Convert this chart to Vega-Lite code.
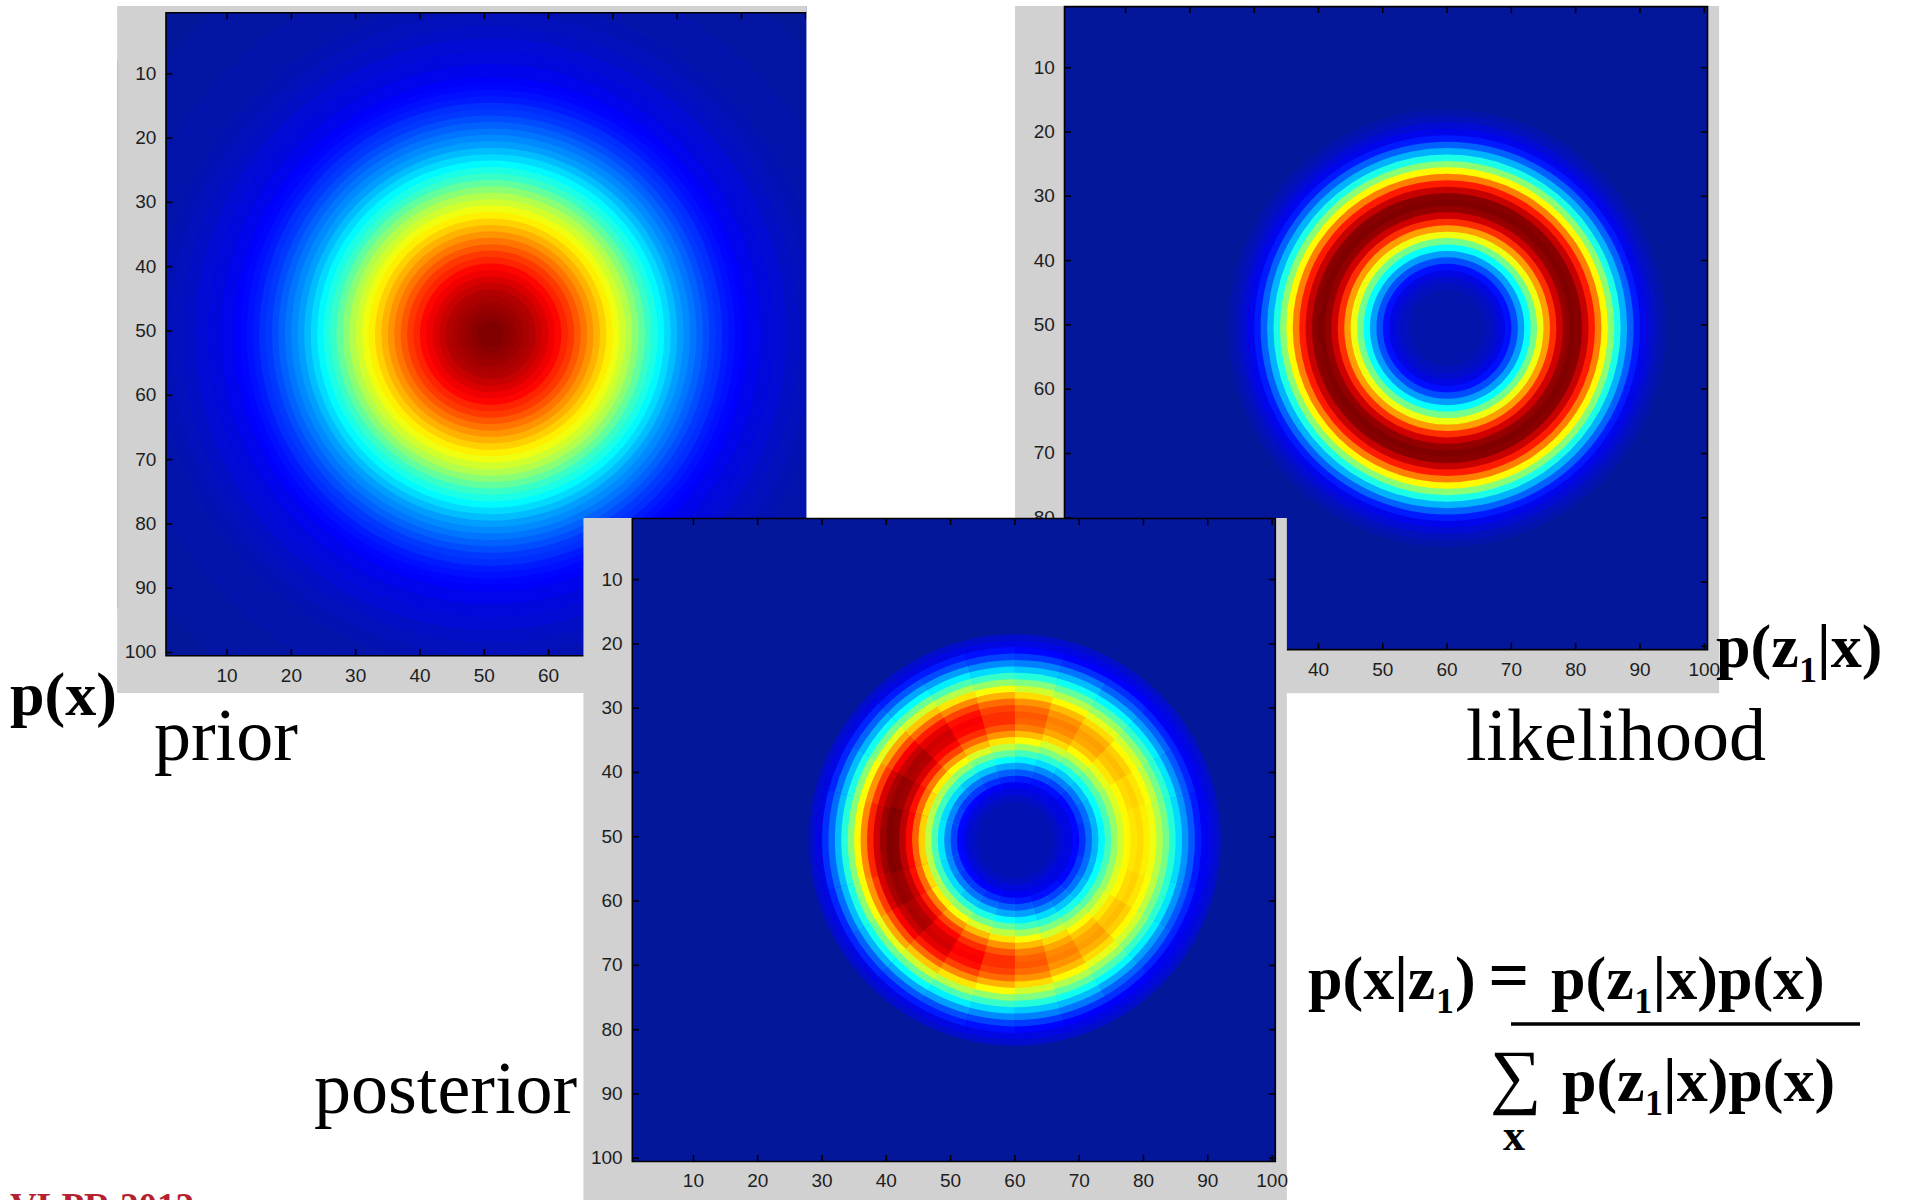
{
"$schema":"https://vega.github.io/schema/vega-lite/v6.json",
"width":1908,"height":1200,"autosize":{"type":"none"},"padding":0,"background":"#ffffff",
"config":{"view":{"stroke":null},"legend":{"disable":true},"axis":{"disable":true},
 "text":{"font":"Liberation Serif","fontSize":62,"fontWeight":"bold","align":"left","baseline":"alphabetic","color":"#000000"},
 "rule":{"color":"#000000","strokeWidth":1.6}},
"datasets":{
 "ticks":[{"t":10},{"t":20},{"t":30},{"t":40},{"t":50},{"t":60},{"t":70},{"t":80},{"t":90},{"t":100}],
 "prior":[{"r":72,"v":0},{"r":66,"v":1},{"r":62,"v":1},{"r":58,"v":2},{"r":55,"v":2},{"r":52,"v":3},{"r":50,"v":4},{"r":48,"v":5},{"r":46,"v":7},{"r":44,"v":8},{"r":42,"v":10},{"r":40,"v":12},{"r":39,"v":13},{"r":38,"v":14},{"r":37,"v":15},{"r":36,"v":17},{"r":35,"v":18},{"r":34,"v":20},{"r":33,"v":22},{"r":32,"v":24},{"r":31,"v":26},{"r":30,"v":28},{"r":29,"v":31},{"r":28,"v":34},{"r":27,"v":37},{"r":26,"v":40},{"r":25,"v":43},{"r":24,"v":47},{"r":23,"v":51},{"r":22,"v":55},{"r":21,"v":58},{"r":20,"v":61},{"r":19,"v":64},{"r":18,"v":67},{"r":17,"v":70},{"r":16,"v":73},{"r":15,"v":76},{"r":14,"v":79},{"r":13,"v":82},{"r":12,"v":84},{"r":11,"v":87},{"r":10,"v":89},{"r":9,"v":91},{"r":8,"v":93},{"r":7,"v":95},{"r":6,"v":96},{"r":5,"v":97},{"r":4,"v":98},{"r":3,"v":99},{"r":2,"v":100}],
 "lik":[{"r":34,"v":2},{"r":33,"v":4},{"r":32,"v":7},{"r":31,"v":10},{"r":30,"v":15},{"r":29,"v":22},{"r":28,"v":30},{"r":27,"v":40},{"r":26,"v":51},{"r":25,"v":63},{"r":24,"v":75},{"r":23,"v":85},{"r":22,"v":93},{"r":21,"v":99},{"r":20,"v":100},{"r":19,"v":98},{"r":18,"v":92},{"r":17,"v":83},{"r":16,"v":72},{"r":15,"v":61},{"r":14,"v":49},{"r":13,"v":38},{"r":12,"v":28},{"r":11,"v":20},{"r":10,"v":14},{"r":9,"v":9},{"r":8,"v":6},{"r":7,"v":4},{"r":6,"v":2}],
 "post_rim":[{"r":32,"v":6},{"r":31,"v":9}],
 "post_core":[{"r":8,"v":8},{"r":7,"v":5},{"r":6,"v":3}],
 "post":[
{"a":0,"r":30,"v":13},{"a":1,"r":30,"v":12},{"a":2,"r":30,"v":12},{"a":3,"r":30,"v":11},{"a":4,"r":30,"v":11},{"a":5,"r":30,"v":11},{"a":6,"r":30,"v":11},{"a":7,"r":30,"v":11},{"a":8,"r":30,"v":11},{"a":9,"r":30,"v":12},{"a":10,"r":30,"v":12},{"a":11,"r":30,"v":13},{"a":12,"r":30,"v":14},{"a":13,"r":30,"v":15},{"a":14,"r":30,"v":15},{"a":15,"r":30,"v":16},{"a":16,"r":30,"v":16},{"a":17,"r":30,"v":17},{"a":18,"r":30,"v":17},{"a":19,"r":30,"v":16},{"a":20,"r":30,"v":16},{"a":21,"r":30,"v":15},{"a":22,"r":30,"v":15},{"a":23,"r":30,"v":14},
{"a":0,"r":29,"v":18},{"a":1,"r":29,"v":17},{"a":2,"r":29,"v":17},{"a":3,"r":29,"v":16},{"a":4,"r":29,"v":16},{"a":5,"r":29,"v":15},{"a":6,"r":29,"v":15},{"a":7,"r":29,"v":16},{"a":8,"r":29,"v":16},{"a":9,"r":29,"v":17},{"a":10,"r":29,"v":17},{"a":11,"r":29,"v":18},{"a":12,"r":29,"v":19},{"a":13,"r":29,"v":20},{"a":14,"r":29,"v":21},{"a":15,"r":29,"v":22},{"a":16,"r":29,"v":23},{"a":17,"r":29,"v":23},{"a":18,"r":29,"v":23},{"a":19,"r":29,"v":23},{"a":20,"r":29,"v":22},{"a":21,"r":29,"v":21},{"a":22,"r":29,"v":20},{"a":23,"r":29,"v":19},
{"a":0,"r":28,"v":25},{"a":1,"r":28,"v":24},{"a":2,"r":28,"v":22},{"a":3,"r":28,"v":22},{"a":4,"r":28,"v":21},{"a":5,"r":28,"v":21},{"a":6,"r":28,"v":21},{"a":7,"r":28,"v":21},{"a":8,"r":28,"v":22},{"a":9,"r":28,"v":22},{"a":10,"r":28,"v":24},{"a":11,"r":28,"v":25},{"a":12,"r":28,"v":26},{"a":13,"r":28,"v":28},{"a":14,"r":28,"v":29},{"a":15,"r":28,"v":30},{"a":16,"r":28,"v":31},{"a":17,"r":28,"v":31},{"a":18,"r":28,"v":31},{"a":19,"r":28,"v":31},{"a":20,"r":28,"v":30},{"a":21,"r":28,"v":29},{"a":22,"r":28,"v":28},{"a":23,"r":28,"v":26},
{"a":0,"r":27,"v":32},{"a":1,"r":27,"v":31},{"a":2,"r":27,"v":29},{"a":3,"r":27,"v":28},{"a":4,"r":27,"v":27},{"a":5,"r":27,"v":27},{"a":6,"r":27,"v":27},{"a":7,"r":27,"v":27},{"a":8,"r":27,"v":28},{"a":9,"r":27,"v":29},{"a":10,"r":27,"v":31},{"a":11,"r":27,"v":32},{"a":12,"r":27,"v":34},{"a":13,"r":27,"v":36},{"a":14,"r":27,"v":38},{"a":15,"r":27,"v":39},{"a":16,"r":27,"v":40},{"a":17,"r":27,"v":41},{"a":18,"r":27,"v":41},{"a":19,"r":27,"v":40},{"a":20,"r":27,"v":39},{"a":21,"r":27,"v":38},{"a":22,"r":27,"v":36},{"a":23,"r":27,"v":34},
{"a":0,"r":26,"v":41},{"a":1,"r":26,"v":39},{"a":2,"r":26,"v":37},{"a":3,"r":26,"v":36},{"a":4,"r":26,"v":35},{"a":5,"r":26,"v":34},{"a":6,"r":26,"v":34},{"a":7,"r":26,"v":35},{"a":8,"r":26,"v":36},{"a":9,"r":26,"v":37},{"a":10,"r":26,"v":39},{"a":11,"r":26,"v":41},{"a":12,"r":26,"v":43},{"a":13,"r":26,"v":45},{"a":14,"r":26,"v":48},{"a":15,"r":26,"v":49},{"a":16,"r":26,"v":51},{"a":17,"r":26,"v":51},{"a":18,"r":26,"v":51},{"a":19,"r":26,"v":51},{"a":20,"r":26,"v":49},{"a":21,"r":26,"v":48},{"a":22,"r":26,"v":45},{"a":23,"r":26,"v":43},
{"a":0,"r":25,"v":50},{"a":1,"r":25,"v":47},{"a":2,"r":25,"v":45},{"a":3,"r":25,"v":43},{"a":4,"r":25,"v":42},{"a":5,"r":25,"v":41},{"a":6,"r":25,"v":41},{"a":7,"r":25,"v":42},{"a":8,"r":25,"v":43},{"a":9,"r":25,"v":45},{"a":10,"r":25,"v":47},{"a":11,"r":25,"v":50},{"a":12,"r":25,"v":52},{"a":13,"r":25,"v":55},{"a":14,"r":25,"v":58},{"a":15,"r":25,"v":60},{"a":16,"r":25,"v":62},{"a":17,"r":25,"v":63},{"a":18,"r":25,"v":63},{"a":19,"r":25,"v":62},{"a":20,"r":25,"v":60},{"a":21,"r":25,"v":58},{"a":22,"r":25,"v":55},{"a":23,"r":25,"v":52},
{"a":0,"r":24,"v":58},{"a":1,"r":24,"v":55},{"a":2,"r":24,"v":53},{"a":3,"r":24,"v":51},{"a":4,"r":24,"v":49},{"a":5,"r":24,"v":49},{"a":6,"r":24,"v":49},{"a":7,"r":24,"v":49},{"a":8,"r":24,"v":51},{"a":9,"r":24,"v":53},{"a":10,"r":24,"v":55},{"a":11,"r":24,"v":58},{"a":12,"r":24,"v":62},{"a":13,"r":24,"v":65},{"a":14,"r":24,"v":68},{"a":15,"r":24,"v":71},{"a":16,"r":24,"v":73},{"a":17,"r":24,"v":74},{"a":18,"r":24,"v":74},{"a":19,"r":24,"v":73},{"a":20,"r":24,"v":71},{"a":21,"r":24,"v":68},{"a":22,"r":24,"v":65},{"a":23,"r":24,"v":62},
{"a":0,"r":23,"v":66},{"a":1,"r":23,"v":63},{"a":2,"r":23,"v":60},{"a":3,"r":23,"v":58},{"a":4,"r":23,"v":56},{"a":5,"r":23,"v":55},{"a":6,"r":23,"v":55},{"a":7,"r":23,"v":56},{"a":8,"r":23,"v":58},{"a":9,"r":23,"v":60},{"a":10,"r":23,"v":63},{"a":11,"r":23,"v":66},{"a":12,"r":23,"v":70},{"a":13,"r":23,"v":74},{"a":14,"r":23,"v":77},{"a":15,"r":23,"v":80},{"a":16,"r":23,"v":82},{"a":17,"r":23,"v":84},{"a":18,"r":23,"v":84},{"a":19,"r":23,"v":82},{"a":20,"r":23,"v":80},{"a":21,"r":23,"v":77},{"a":22,"r":23,"v":74},{"a":23,"r":23,"v":70},
{"a":0,"r":22,"v":73},{"a":1,"r":22,"v":69},{"a":2,"r":22,"v":66},{"a":3,"r":22,"v":63},{"a":4,"r":22,"v":62},{"a":5,"r":22,"v":61},{"a":6,"r":22,"v":61},{"a":7,"r":22,"v":62},{"a":8,"r":22,"v":63},{"a":9,"r":22,"v":66},{"a":10,"r":22,"v":69},{"a":11,"r":22,"v":73},{"a":12,"r":22,"v":77},{"a":13,"r":22,"v":81},{"a":14,"r":22,"v":85},{"a":15,"r":22,"v":88},{"a":16,"r":22,"v":91},{"a":17,"r":22,"v":92},{"a":18,"r":22,"v":92},{"a":19,"r":22,"v":91},{"a":20,"r":22,"v":88},{"a":21,"r":22,"v":85},{"a":22,"r":22,"v":81},{"a":23,"r":22,"v":77},
{"a":0,"r":21,"v":77},{"a":1,"r":21,"v":73},{"a":2,"r":21,"v":70},{"a":3,"r":21,"v":67},{"a":4,"r":21,"v":65},{"a":5,"r":21,"v":64},{"a":6,"r":21,"v":64},{"a":7,"r":21,"v":65},{"a":8,"r":21,"v":67},{"a":9,"r":21,"v":70},{"a":10,"r":21,"v":73},{"a":11,"r":21,"v":77},{"a":12,"r":21,"v":81},{"a":13,"r":21,"v":86},{"a":14,"r":21,"v":90},{"a":15,"r":21,"v":93},{"a":16,"r":21,"v":96},{"a":17,"r":21,"v":97},{"a":18,"r":21,"v":97},{"a":19,"r":21,"v":96},{"a":20,"r":21,"v":93},{"a":21,"r":21,"v":90},{"a":22,"r":21,"v":86},{"a":23,"r":21,"v":81},
{"a":0,"r":20,"v":79},{"a":1,"r":20,"v":75},{"a":2,"r":20,"v":72},{"a":3,"r":20,"v":69},{"a":4,"r":20,"v":67},{"a":5,"r":20,"v":66},{"a":6,"r":20,"v":66},{"a":7,"r":20,"v":67},{"a":8,"r":20,"v":69},{"a":9,"r":20,"v":72},{"a":10,"r":20,"v":75},{"a":11,"r":20,"v":79},{"a":12,"r":20,"v":83},{"a":13,"r":20,"v":88},{"a":14,"r":20,"v":92},{"a":15,"r":20,"v":96},{"a":16,"r":20,"v":98},{"a":17,"r":20,"v":100},{"a":18,"r":20,"v":100},{"a":19,"r":20,"v":98},{"a":20,"r":20,"v":96},{"a":21,"r":20,"v":92},{"a":22,"r":20,"v":88},{"a":23,"r":20,"v":83},
{"a":0,"r":19,"v":78},{"a":1,"r":19,"v":74},{"a":2,"r":19,"v":71},{"a":3,"r":19,"v":68},{"a":4,"r":19,"v":66},{"a":5,"r":19,"v":65},{"a":6,"r":19,"v":65},{"a":7,"r":19,"v":66},{"a":8,"r":19,"v":68},{"a":9,"r":19,"v":71},{"a":10,"r":19,"v":74},{"a":11,"r":19,"v":78},{"a":12,"r":19,"v":83},{"a":13,"r":19,"v":87},{"a":14,"r":19,"v":91},{"a":15,"r":19,"v":95},{"a":16,"r":19,"v":97},{"a":17,"r":19,"v":99},{"a":18,"r":19,"v":99},{"a":19,"r":19,"v":97},{"a":20,"r":19,"v":95},{"a":21,"r":19,"v":91},{"a":22,"r":19,"v":87},{"a":23,"r":19,"v":83},
{"a":0,"r":18,"v":75},{"a":1,"r":18,"v":71},{"a":2,"r":18,"v":68},{"a":3,"r":18,"v":65},{"a":4,"r":18,"v":63},{"a":5,"r":18,"v":63},{"a":6,"r":18,"v":63},{"a":7,"r":18,"v":63},{"a":8,"r":18,"v":65},{"a":9,"r":18,"v":68},{"a":10,"r":18,"v":71},{"a":11,"r":18,"v":75},{"a":12,"r":18,"v":79},{"a":13,"r":18,"v":83},{"a":14,"r":18,"v":87},{"a":15,"r":18,"v":91},{"a":16,"r":18,"v":93},{"a":17,"r":18,"v":94},{"a":18,"r":18,"v":94},{"a":19,"r":18,"v":93},{"a":20,"r":18,"v":91},{"a":21,"r":18,"v":87},{"a":22,"r":18,"v":83},{"a":23,"r":18,"v":79},
{"a":0,"r":17,"v":69},{"a":1,"r":17,"v":66},{"a":2,"r":17,"v":63},{"a":3,"r":17,"v":60},{"a":4,"r":17,"v":59},{"a":5,"r":17,"v":58},{"a":6,"r":17,"v":58},{"a":7,"r":17,"v":59},{"a":8,"r":17,"v":60},{"a":9,"r":17,"v":63},{"a":10,"r":17,"v":66},{"a":11,"r":17,"v":69},{"a":12,"r":17,"v":73},{"a":13,"r":17,"v":77},{"a":14,"r":17,"v":81},{"a":15,"r":17,"v":84},{"a":16,"r":17,"v":86},{"a":17,"r":17,"v":87},{"a":18,"r":17,"v":87},{"a":19,"r":17,"v":86},{"a":20,"r":17,"v":84},{"a":21,"r":17,"v":81},{"a":22,"r":17,"v":77},{"a":23,"r":17,"v":73},
{"a":0,"r":16,"v":62},{"a":1,"r":16,"v":58},{"a":2,"r":16,"v":56},{"a":3,"r":16,"v":54},{"a":4,"r":16,"v":52},{"a":5,"r":16,"v":52},{"a":6,"r":16,"v":52},{"a":7,"r":16,"v":52},{"a":8,"r":16,"v":54},{"a":9,"r":16,"v":56},{"a":10,"r":16,"v":58},{"a":11,"r":16,"v":62},{"a":12,"r":16,"v":65},{"a":13,"r":16,"v":69},{"a":14,"r":16,"v":72},{"a":15,"r":16,"v":75},{"a":16,"r":16,"v":77},{"a":17,"r":16,"v":78},{"a":18,"r":16,"v":78},{"a":19,"r":16,"v":77},{"a":20,"r":16,"v":75},{"a":21,"r":16,"v":72},{"a":22,"r":16,"v":69},{"a":23,"r":16,"v":65},
{"a":0,"r":15,"v":53},{"a":1,"r":15,"v":50},{"a":2,"r":15,"v":48},{"a":3,"r":15,"v":46},{"a":4,"r":15,"v":45},{"a":5,"r":15,"v":44},{"a":6,"r":15,"v":44},{"a":7,"r":15,"v":45},{"a":8,"r":15,"v":46},{"a":9,"r":15,"v":48},{"a":10,"r":15,"v":50},{"a":11,"r":15,"v":53},{"a":12,"r":15,"v":56},{"a":13,"r":15,"v":59},{"a":14,"r":15,"v":62},{"a":15,"r":15,"v":64},{"a":16,"r":15,"v":66},{"a":17,"r":15,"v":67},{"a":18,"r":15,"v":67},{"a":19,"r":15,"v":66},{"a":20,"r":15,"v":64},{"a":21,"r":15,"v":62},{"a":22,"r":15,"v":59},{"a":23,"r":15,"v":56},
{"a":0,"r":14,"v":44},{"a":1,"r":14,"v":42},{"a":2,"r":14,"v":40},{"a":3,"r":14,"v":39},{"a":4,"r":14,"v":38},{"a":5,"r":14,"v":37},{"a":6,"r":14,"v":37},{"a":7,"r":14,"v":38},{"a":8,"r":14,"v":39},{"a":9,"r":14,"v":40},{"a":10,"r":14,"v":42},{"a":11,"r":14,"v":44},{"a":12,"r":14,"v":47},{"a":13,"r":14,"v":49},{"a":14,"r":14,"v":52},{"a":15,"r":14,"v":54},{"a":16,"r":14,"v":55},{"a":17,"r":14,"v":56},{"a":18,"r":14,"v":56},{"a":19,"r":14,"v":55},{"a":20,"r":14,"v":54},{"a":21,"r":14,"v":52},{"a":22,"r":14,"v":49},{"a":23,"r":14,"v":47},
{"a":0,"r":13,"v":36},{"a":1,"r":13,"v":34},{"a":2,"r":13,"v":32},{"a":3,"r":13,"v":31},{"a":4,"r":13,"v":30},{"a":5,"r":13,"v":30},{"a":6,"r":13,"v":30},{"a":7,"r":13,"v":30},{"a":8,"r":13,"v":31},{"a":9,"r":13,"v":32},{"a":10,"r":13,"v":34},{"a":11,"r":13,"v":36},{"a":12,"r":13,"v":38},{"a":13,"r":13,"v":40},{"a":14,"r":13,"v":42},{"a":15,"r":13,"v":43},{"a":16,"r":13,"v":44},{"a":17,"r":13,"v":45},{"a":18,"r":13,"v":45},{"a":19,"r":13,"v":44},{"a":20,"r":13,"v":43},{"a":21,"r":13,"v":42},{"a":22,"r":13,"v":40},{"a":23,"r":13,"v":38},
{"a":0,"r":12,"v":28},{"a":1,"r":12,"v":26},{"a":2,"r":12,"v":25},{"a":3,"r":12,"v":24},{"a":4,"r":12,"v":23},{"a":5,"r":12,"v":23},{"a":6,"r":12,"v":23},{"a":7,"r":12,"v":23},{"a":8,"r":12,"v":24},{"a":9,"r":12,"v":25},{"a":10,"r":12,"v":26},{"a":11,"r":12,"v":28},{"a":12,"r":12,"v":29},{"a":13,"r":12,"v":31},{"a":14,"r":12,"v":32},{"a":15,"r":12,"v":34},{"a":16,"r":12,"v":34},{"a":17,"r":12,"v":35},{"a":18,"r":12,"v":35},{"a":19,"r":12,"v":34},{"a":20,"r":12,"v":34},{"a":21,"r":12,"v":32},{"a":22,"r":12,"v":31},{"a":23,"r":12,"v":29},
{"a":0,"r":11,"v":21},{"a":1,"r":11,"v":20},{"a":2,"r":11,"v":19},{"a":3,"r":11,"v":18},{"a":4,"r":11,"v":18},{"a":5,"r":11,"v":17},{"a":6,"r":11,"v":17},{"a":7,"r":11,"v":18},{"a":8,"r":11,"v":18},{"a":9,"r":11,"v":19},{"a":10,"r":11,"v":20},{"a":11,"r":11,"v":21},{"a":12,"r":11,"v":22},{"a":13,"r":11,"v":23},{"a":14,"r":11,"v":24},{"a":15,"r":11,"v":25},{"a":16,"r":11,"v":26},{"a":17,"r":11,"v":26},{"a":18,"r":11,"v":26},{"a":19,"r":11,"v":26},{"a":20,"r":11,"v":25},{"a":21,"r":11,"v":24},{"a":22,"r":11,"v":23},{"a":23,"r":11,"v":22},
{"a":0,"r":10,"v":15},{"a":1,"r":10,"v":14},{"a":2,"r":10,"v":14},{"a":3,"r":10,"v":13},{"a":4,"r":10,"v":13},{"a":5,"r":10,"v":13},{"a":6,"r":10,"v":13},{"a":7,"r":10,"v":13},{"a":8,"r":10,"v":13},{"a":9,"r":10,"v":14},{"a":10,"r":10,"v":14},{"a":11,"r":10,"v":15},{"a":12,"r":10,"v":16},{"a":13,"r":10,"v":17},{"a":14,"r":10,"v":18},{"a":15,"r":10,"v":18},{"a":16,"r":10,"v":19},{"a":17,"r":10,"v":19},{"a":18,"r":10,"v":19},{"a":19,"r":10,"v":19},{"a":20,"r":10,"v":18},{"a":21,"r":10,"v":18},{"a":22,"r":10,"v":17},{"a":23,"r":10,"v":16},
{"a":0,"r":9,"v":11},{"a":1,"r":9,"v":10},{"a":2,"r":9,"v":10},{"a":3,"r":9,"v":9},{"a":4,"r":9,"v":9},{"a":5,"r":9,"v":9},{"a":6,"r":9,"v":9},{"a":7,"r":9,"v":9},{"a":8,"r":9,"v":9},{"a":9,"r":9,"v":10},{"a":10,"r":9,"v":10},{"a":11,"r":9,"v":11},{"a":12,"r":9,"v":11},{"a":13,"r":9,"v":12},{"a":14,"r":9,"v":12},{"a":15,"r":9,"v":13},{"a":16,"r":9,"v":13},{"a":17,"r":9,"v":13},{"a":18,"r":9,"v":13},{"a":19,"r":9,"v":13},{"a":20,"r":9,"v":13},{"a":21,"r":9,"v":12},{"a":22,"r":9,"v":12},{"a":23,"r":9,"v":11}
 ]
},
"resolve":{"scale":{"x":"independent","y":"independent","radius":"independent","color":"independent","theta":"independent"}},
"layer":[
 {"layer":[
  {"data":{"values":[{}]},"mark":{"type":"rect","color":"#d1d1d1"},"encoding":{"x":{"datum":-7.1,"type":"quantitative","scale":{"domain":[-25.317,271.42],"nice":false,"zero":false}},"x2":{"datum":100.1},"y":{"datum":-0.54,"type":"quantitative","scale":{"domain":[-1.475,185.15],"reverse":true,"nice":false,"zero":false}},"y2":{"datum":106.3}}},
  {"data":{"name":"prior"},"mark":{"type":"arc","theta":0,"theta2":6.2832},"encoding":{"x":{"datum":51},"y":{"datum":50.5},"radius":{"field":"r","type":"quantitative","stack":null,"scale":{"type":"linear","domain":[0,100],"range":[0,643],"zero":true,"nice":false}},"color":{"field":"v","type":"quantitative","scale":{"type":"linear","domain":[0,12.5,37.5,62.5,87.5,100],"range":["#04179b","#0000ff","#00ffff","#ffff00","#ff0000","#800000"],"interpolate":"rgb","clamp":true}}}},
  {"data":{"values":[{}]},"mark":{"type":"rect","color":"#d1d1d1"},"encoding":{"x":{"datum":-7.1},"x2":{"datum":0.5},"y":{"datum":-0.54},"y2":{"datum":106.3}}},
  {"data":{"values":[{}]},"mark":{"type":"rect","color":"#d1d1d1"},"encoding":{"x":{"datum":-7.1},"x2":{"datum":100.1},"y":{"datum":-0.54},"y2":{"datum":0.5}}},
  {"data":{"values":[{}]},"mark":{"type":"rect","color":"#d1d1d1"},"encoding":{"x":{"datum":-7.1},"x2":{"datum":100.1},"y":{"datum":100.5},"y2":{"datum":106.3}}},
  {"data":{"values":[{}]},"mark":{"type":"rect","color":"#ffffff"},"encoding":{"x":{"datum":-40},"x2":{"datum":-7.1},"y":{"datum":-40},"y2":{"datum":130}}},
  {"data":{"values":[{}]},"mark":{"type":"rect","color":"#ffffff"},"encoding":{"x":{"datum":-40},"x2":{"datum":130},"y":{"datum":-40},"y2":{"datum":-0.54}}},
  {"data":{"values":[{}]},"mark":{"type":"rect","color":"#ffffff"},"encoding":{"x":{"datum":-40},"x2":{"datum":130},"y":{"datum":106.3},"y2":{"datum":130}}},
  {"data":{"values":[{}]},"mark":{"type":"rect","filled":false,"color":"#000000","strokeWidth":1.6},"encoding":{"x":{"datum":0.5},"x2":{"datum":100.5},"y":{"datum":0.5},"y2":{"datum":100.5}}},
  {"data":{"name":"ticks"},"mark":"rule","encoding":{"x":{"field":"t","type":"quantitative"},"y":{"datum":0.5},"y2":{"datum":1.5}}},
  {"data":{"name":"ticks"},"mark":"rule","encoding":{"x":{"field":"t","type":"quantitative"},"y":{"datum":100.5},"y2":{"datum":99.5}}},
  {"data":{"name":"ticks"},"mark":"rule","encoding":{"y":{"field":"t","type":"quantitative"},"x":{"datum":0.5},"x2":{"datum":1.5}}},
  {"data":{"values":[{}]},"mark":{"type":"rect","color":"#ffffff"},"encoding":{"x":{"datum":100.1},"x2":{"datum":130},"y":{"datum":-40},"y2":{"datum":130}}},
  {"data":{"name":"ticks"},"mark":{"type":"text","font":"Liberation Sans","fontSize":19,"fontWeight":"normal","color":"#1e1e1e","align":"center","baseline":"middle"},"encoding":{"x":{"field":"t","type":"quantitative"},"y":{"datum":103.6},"text":{"field":"t"}}},
  {"data":{"name":"ticks"},"mark":{"type":"text","font":"Liberation Sans","fontSize":19,"fontWeight":"normal","color":"#1e1e1e","align":"right","baseline":"middle"},"encoding":{"y":{"field":"t","type":"quantitative"},"x":{"datum":-1.0},"text":{"field":"t"}}},
  {"data":{"values":[{}]},"mark":{"type":"text","text":"p(x)"},"encoding":{"x":{"datum":-23.76},"y":{"datum":109.72}}},
  {"data":{"values":[{}]},"mark":{"type":"text","text":"prior","fontSize":74,"fontWeight":"normal"},"encoding":{"x":{"datum":-1.37},"y":{"datum":116.72}}},
  {"data":{"values":[{}]},"mark":{"type":"text","text":"VLPR 2012","fontSize":37,"color":"#b52130"},"encoding":{"x":{"datum":-23.76},"y":{"datum":188.18}}}
 ]},
 {"layer":[
  {"data":{"values":[{}]},"mark":{"type":"rect","color":"#d1d1d1"},"encoding":{"x":{"datum":-7.2,"type":"quantitative","scale":{"domain":[-165.05,131.68],"nice":false,"zero":false}},"x2":{"datum":102.3},"y":{"datum":0.41,"type":"quantitative","scale":{"domain":[-0.526,186.1],"reverse":true,"nice":false,"zero":false}},"y2":{"datum":107.3}}},
  {"data":{"values":[{}]},"mark":{"type":"rect","color":"#04179b"},"encoding":{"x":{"datum":0.5},"x2":{"datum":100.5},"y":{"datum":0.5},"y2":{"datum":100.5}}},
  {"data":{"name":"lik"},"mark":{"type":"arc","theta":0,"theta2":6.2832},"encoding":{"x":{"datum":60},"y":{"datum":50.5},"radius":{"field":"r","type":"quantitative","stack":null,"scale":{"type":"linear","domain":[0,100],"range":[0,643],"zero":true,"nice":false}},"color":{"field":"v","type":"quantitative","scale":{"type":"linear","domain":[0,12.5,37.5,62.5,87.5,100],"range":["#04179b","#0000ff","#00ffff","#ffff00","#ff0000","#800000"],"interpolate":"rgb","clamp":true}}}},
  {"data":{"values":[{}]},"mark":{"type":"rect","filled":false,"color":"#000000","strokeWidth":1.6},"encoding":{"x":{"datum":0.5},"x2":{"datum":100.5},"y":{"datum":0.5},"y2":{"datum":100.5}}},
  {"data":{"name":"ticks"},"mark":"rule","encoding":{"x":{"field":"t","type":"quantitative"},"y":{"datum":0.5},"y2":{"datum":1.5}}},
  {"data":{"name":"ticks"},"mark":"rule","encoding":{"x":{"field":"t","type":"quantitative"},"y":{"datum":100.5},"y2":{"datum":99.5}}},
  {"data":{"name":"ticks"},"mark":"rule","encoding":{"y":{"field":"t","type":"quantitative"},"x":{"datum":0.5},"x2":{"datum":1.5}}},
  {"data":{"name":"ticks"},"mark":"rule","encoding":{"y":{"field":"t","type":"quantitative"},"x":{"datum":100.5},"x2":{"datum":99.5}}},
  {"data":{"name":"ticks"},"mark":{"type":"text","font":"Liberation Sans","fontSize":19,"fontWeight":"normal","color":"#1e1e1e","align":"center","baseline":"middle"},"encoding":{"x":{"field":"t","type":"quantitative"},"y":{"datum":103.6},"text":{"field":"t"}}},
  {"data":{"name":"ticks"},"mark":{"type":"text","font":"Liberation Sans","fontSize":19,"fontWeight":"normal","color":"#1e1e1e","align":"right","baseline":"middle"},"encoding":{"y":{"field":"t","type":"quantitative"},"x":{"datum":-1.0},"text":{"field":"t"}}},
  {"data":{"values":[{}]},"mark":{"type":"text","text":"likelihood","fontSize":74,"fontWeight":"normal"},"encoding":{"x":{"datum":62.94},"y":{"datum":117.67}}},
  {"data":{"values":[{}]},"mark":{"type":"text","text":"p(z"},"encoding":{"x":{"datum":101.82},"y":{"datum":103.21}}},
  {"data":{"values":[{}]},"mark":{"type":"text","text":"1","fontSize":36},"encoding":{"x":{"datum":114.73},"y":{"datum":105.54}}},
  {"data":{"values":[{}]},"mark":{"type":"text","text":"|x)"},"encoding":{"x":{"datum":117.53},"y":{"datum":103.21}}},
  {"data":{"values":[{}]},"mark":{"type":"text","text":"p(x|z"},"encoding":{"x":{"datum":38.37},"y":{"datum":154.84}}},
  {"data":{"values":[{}]},"mark":{"type":"text","text":"1","fontSize":36},"encoding":{"x":{"datum":58.28},"y":{"datum":157.02}}},
  {"data":{"values":[{}]},"mark":{"type":"text","text":")"},"encoding":{"x":{"datum":61.23},"y":{"datum":154.84}}},
  {"data":{"values":[{}]},"mark":{"type":"text","text":"=","fontSize":72},"encoding":{"x":{"datum":66.4},"y":{"datum":154.84}}},
  {"data":{"values":[{}]},"mark":{"type":"text","text":"p(z"},"encoding":{"x":{"datum":76.16},"y":{"datum":154.84}}},
  {"data":{"values":[{}]},"mark":{"type":"text","text":"1","fontSize":36},"encoding":{"x":{"datum":89.1},"y":{"datum":157.02}}},
  {"data":{"values":[{}]},"mark":{"type":"text","text":"|x)p(x)"},"encoding":{"x":{"datum":91.96},"y":{"datum":154.84}}},
  {"data":{"values":[{}]},"mark":{"type":"rule","strokeWidth":3.5},"encoding":{"x":{"datum":69.94},"x2":{"datum":124.22},"y":{"datum":158.73}}},
  {"data":{"values":[{}]},"mark":{"type":"text","text":"∑","fontSize":72,"fontWeight":"normal"},"encoding":{"x":{"datum":66.67},"y":{"datum":170.55}}},
  {"data":{"values":[{}]},"mark":{"type":"text","text":"p(z"},"encoding":{"x":{"datum":77.87},"y":{"datum":170.7}}},
  {"data":{"values":[{}]},"mark":{"type":"text","text":"1","fontSize":36},"encoding":{"x":{"datum":90.78},"y":{"datum":172.88}}},
  {"data":{"values":[{}]},"mark":{"type":"text","text":"|x)p(x)"},"encoding":{"x":{"datum":93.58},"y":{"datum":170.7}}},
  {"data":{"values":[{}]},"mark":{"type":"text","text":"x","fontSize":44},"encoding":{"x":{"datum":68.7},"y":{"datum":178.32}}}
 ]},
 {"layer":[
  {"data":{"values":[{}]},"mark":{"type":"rect","color":"#d1d1d1"},"encoding":{"x":{"datum":-7.1,"type":"quantitative","scale":{"domain":[-97.84,198.9],"nice":false,"zero":false}},"x2":{"datum":102.3},"y":{"datum":0.42,"type":"quantitative","scale":{"domain":[-80.14,106.49],"reverse":true,"nice":false,"zero":false}},"y2":{"datum":112}}},
  {"data":{"values":[{}]},"mark":{"type":"rect","color":"#04179b"},"encoding":{"x":{"datum":0.5},"x2":{"datum":100.5},"y":{"datum":0.5},"y2":{"datum":100.5}}},
  {"data":{"name":"post_rim"},"mark":{"type":"arc","theta":0,"theta2":6.2832},"encoding":{"x":{"datum":60},"y":{"datum":50.5},"radius":{"field":"r","type":"quantitative","stack":null},"color":{"field":"v","type":"quantitative"}}},
  {"data":{"name":"post"},"mark":{"type":"arc"},"encoding":{"x":{"datum":60},"y":{"datum":50.5},"theta":{"field":"a","type":"ordinal","scale":{"type":"band","domain":[0,1,2,3,4,5,6,7,8,9,10,11,12,13,14,15,16,17,18,19,20,21,22,23],"range":[0,6.2832],"paddingInner":0,"paddingOuter":0}},"radius":{"field":"r","type":"quantitative","stack":null,"scale":{"type":"linear","domain":[0,100],"range":[0,643],"zero":true,"nice":false}},"color":{"field":"v","type":"quantitative","scale":{"type":"linear","domain":[0,12.5,37.5,62.5,87.5,100],"range":["#04179b","#0000ff","#00ffff","#ffff00","#ff0000","#800000"],"interpolate":"rgb","clamp":true}}}},
  {"data":{"name":"post_core"},"mark":{"type":"arc","theta":0,"theta2":6.2832},"encoding":{"x":{"datum":60},"y":{"datum":50.5},"radius":{"field":"r","type":"quantitative","stack":null},"color":{"field":"v","type":"quantitative"}}},
  {"data":{"values":[{}]},"mark":{"type":"rect","filled":false,"color":"#000000","strokeWidth":1.6},"encoding":{"x":{"datum":0.5},"x2":{"datum":100.5},"y":{"datum":0.5},"y2":{"datum":100.5}}},
  {"data":{"name":"ticks"},"mark":"rule","encoding":{"x":{"field":"t","type":"quantitative"},"y":{"datum":0.5},"y2":{"datum":1.5}}},
  {"data":{"name":"ticks"},"mark":"rule","encoding":{"x":{"field":"t","type":"quantitative"},"y":{"datum":100.5},"y2":{"datum":99.5}}},
  {"data":{"name":"ticks"},"mark":"rule","encoding":{"y":{"field":"t","type":"quantitative"},"x":{"datum":0.5},"x2":{"datum":1.5}}},
  {"data":{"name":"ticks"},"mark":"rule","encoding":{"y":{"field":"t","type":"quantitative"},"x":{"datum":100.5},"x2":{"datum":99.5}}},
  {"data":{"name":"ticks"},"mark":{"type":"text","font":"Liberation Sans","fontSize":19,"fontWeight":"normal","color":"#1e1e1e","align":"center","baseline":"middle"},"encoding":{"x":{"field":"t","type":"quantitative"},"y":{"datum":103.6},"text":{"field":"t"}}},
  {"data":{"name":"ticks"},"mark":{"type":"text","font":"Liberation Sans","fontSize":19,"fontWeight":"normal","color":"#1e1e1e","align":"right","baseline":"middle"},"encoding":{"y":{"field":"t","type":"quantitative"},"x":{"datum":-1.0},"text":{"field":"t"}}},
  {"data":{"values":[{}]},"mark":{"type":"text","text":"posterior","fontSize":74,"fontWeight":"normal"},"encoding":{"x":{"datum":-49.0},"y":{"datum":92.96}}}
 ]}
]
}
